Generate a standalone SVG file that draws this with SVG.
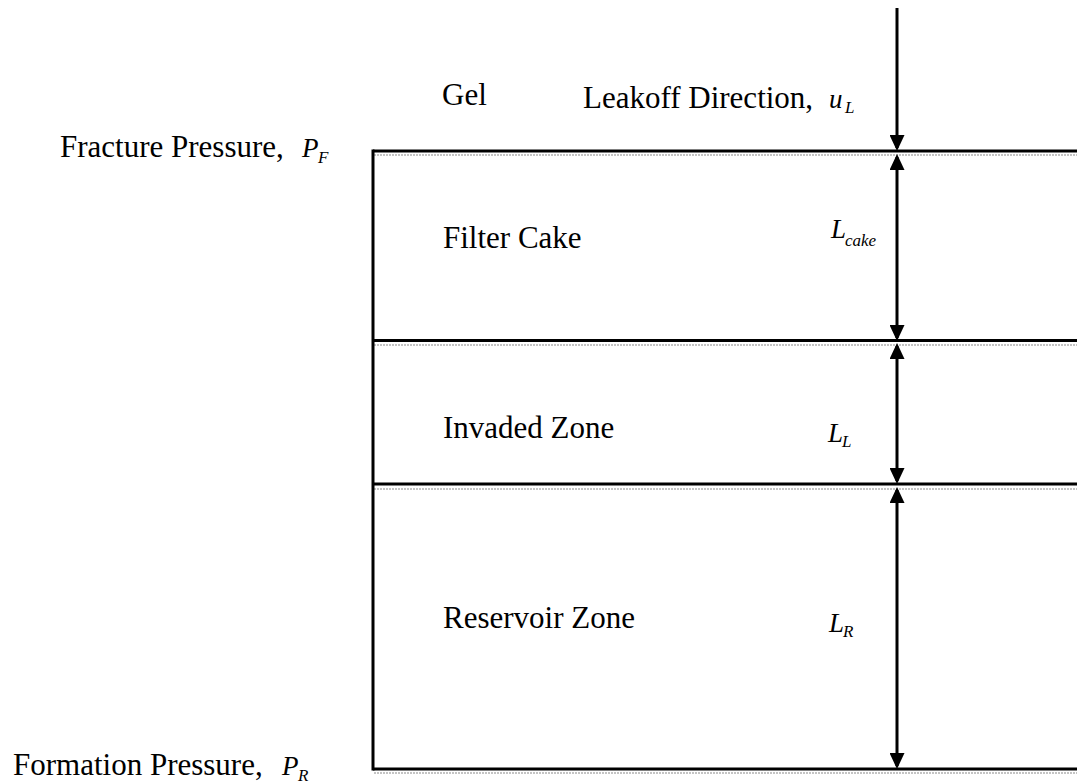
<svg xmlns="http://www.w3.org/2000/svg" width="1077" height="784" viewBox="0 0 1077 784">
<style>
.t{font-family:"Liberation Serif","Times New Roman",serif;font-size:31px;fill:#000}
.i{font-family:"Liberation Serif","Times New Roman",serif;font-style:italic;font-size:27px;fill:#000}
.s{font-family:"Liberation Serif","Times New Roman",serif;font-style:italic;font-size:17px;fill:#000}
.bl{stroke:#000;stroke-width:3;fill:none}
.gr{stroke:#c4c4c4;stroke-width:2;stroke-dasharray:2 1;fill:none}
.ar{stroke:#000;stroke-width:3;fill:none}
</style>
<defs>
<marker id="ah" markerUnits="userSpaceOnUse" markerWidth="16" markerHeight="15" refX="13" refY="7.5" orient="auto-start-reverse" viewBox="0 0 16 15">
<path d="M0,0 L16,7.5 L0,15 Z" fill="#000"/>
</marker>
</defs>
<g id="layers">
<line class="gr" x1="374" y1="155" x2="1077" y2="155"/>
<line class="gr" x1="374" y1="345" x2="1077" y2="345"/>
<line class="gr" x1="374" y1="489" x2="1077" y2="489"/>
<line class="gr" x1="374" y1="773" x2="1077" y2="773"/>
<line class="bl" x1="373" y1="151" x2="1077" y2="151"/>
<line class="bl" x1="373" y1="340.5" x2="1077" y2="340.5"/>
<line class="bl" x1="373" y1="484" x2="1077" y2="484"/>
<line class="bl" x1="373" y1="769" x2="1077" y2="769"/>
<line class="bl" x1="373" y1="149.5" x2="373" y2="770.5"/>
</g>
<g id="labels-left">
<text class="t" x="60" y="157">Fracture Pressure,</text>
<text class="i" x="302" y="157" font-size="25">P</text>
<text class="s" x="318" y="163">F</text>
<text class="t" x="13" y="775">Formation Pressure,</text>
<text class="i" x="282" y="775" font-size="25">P</text>
<text class="s" x="298" y="781">R</text>
</g>
<g id="gel">
<text class="t" x="442" y="105">Gel</text>
</g>
<g id="leakoff">
<text class="t" x="583" y="108">Leakoff Direction,</text>
<text class="i" x="829" y="108">u</text>
<text class="s" x="845" y="113">L</text>
</g>
<g id="filter-cake">
<text class="t" x="443" y="248">Filter Cake</text>
<text class="i" x="831" y="238">L</text>
<text class="s" x="845" y="246">cake</text>
</g>
<g id="invaded-zone">
<text class="t" x="443" y="438">Invaded Zone</text>
<text class="i" x="828" y="442">L</text>
<text class="s" x="842" y="447">L</text>
</g>
<g id="reservoir-zone">
<text class="t" x="443" y="628">Reservoir Zone</text>
<text class="i" x="829" y="632">L</text>
<text class="s" x="843" y="637">R</text>
</g>
<g id="connectors">
<line class="ar" x1="897" y1="8" x2="897" y2="148" marker-end="url(#ah)"/>
<line class="ar" x1="897" y1="157" x2="897" y2="338" marker-start="url(#ah)" marker-end="url(#ah)"/>
<line class="ar" x1="897" y1="346" x2="897" y2="481" marker-start="url(#ah)" marker-end="url(#ah)"/>
<line class="ar" x1="897" y1="490" x2="897" y2="766" marker-start="url(#ah)" marker-end="url(#ah)"/>
</g>
</svg>
